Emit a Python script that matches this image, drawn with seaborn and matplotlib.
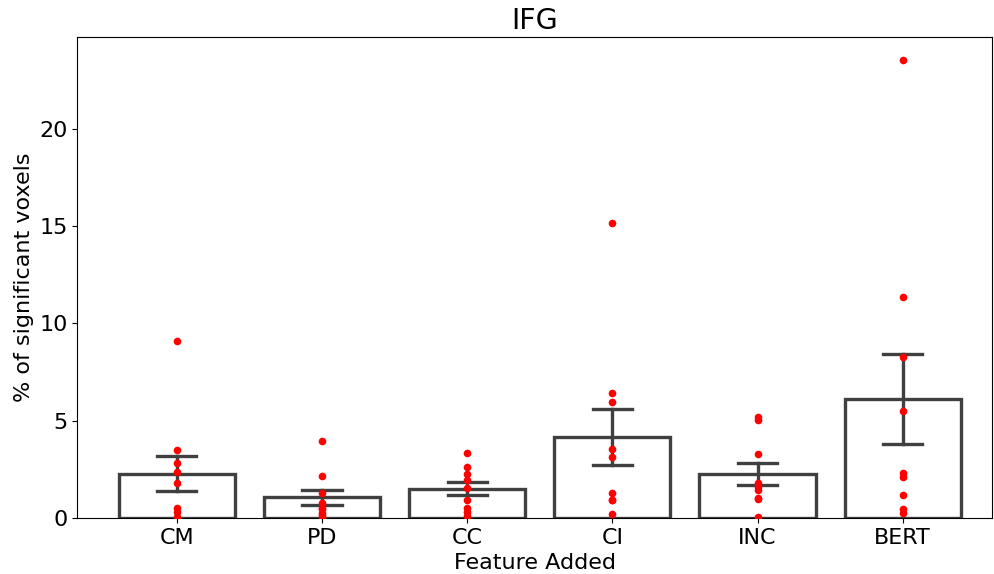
import numpy as np
import pandas as pd
import matplotlib
matplotlib.use("Agg")
import matplotlib.pyplot as plt
import seaborn as sns

categories = ["CM", "PD", "CC", "CI", "INC", "BERT"]
cm_vals = [9.08, 3.51, 2.83, 2.38, 1.80, 0.53, 0.29, 0.07, 0.00]
pd_vals = [3.96, 2.14, 1.30, 0.75, 0.50, 0.45, 0.24, 0.16, 0.04]
cc_vals = [3.34, 2.61, 2.26, 1.95, 1.56, 0.94, 0.51, 0.32, 0.10]
ci_vals = [15.18, 6.41, 5.96, 3.56, 3.15, 1.27, 0.94, 0.90, 0.21]
inc_vals = [5.18, 5.04, 3.29, 1.78, 1.58, 1.44, 1.03, 0.96, 0.04]
bert_vals = [23.55, 11.38, 8.26, 5.52, 2.33, 2.09, 1.18, 0.46, 0.27]

series = [cm_vals, pd_vals, cc_vals, ci_vals, inc_vals, bert_vals]
df = pd.DataFrame({
    "Feature Added": [c for c, v in zip(categories, series) for _ in v],
    "% of significant voxels": [x for v in series for x in v],
})

fig = plt.figure(figsize=(9.94, 5.74), dpi=100)
ax = fig.add_axes([0.0778, 0.0976, 0.9202, 0.8379])

sns.barplot(data=df, x="Feature Added", y="% of significant voxels", order=categories,
            errorbar=("ci", 68), seed=0, capsize=0.27, facecolor=(1, 1, 1, 0), edgecolor=".25",
            linewidth=2.4, err_kws={"color": ".25", "linewidth": 2.4}, width=0.8, ax=ax)
sns.stripplot(data=df, x="Feature Added", y="% of significant voxels", order=categories,
              color="red", jitter=False, size=5.5, ax=ax)

ax.set_xlim(-0.685, 5.615)
ax.set_title("IFG", fontsize=20.5)
ax.set_xlabel("Feature Added", fontsize=16)
ax.set_ylabel("% of significant voxels", fontsize=16)
ax.tick_params(axis="both", labelsize=16)
ax.set_yticks([0, 5, 10, 15, 20])

fig.savefig("out.png", dpi=100)
